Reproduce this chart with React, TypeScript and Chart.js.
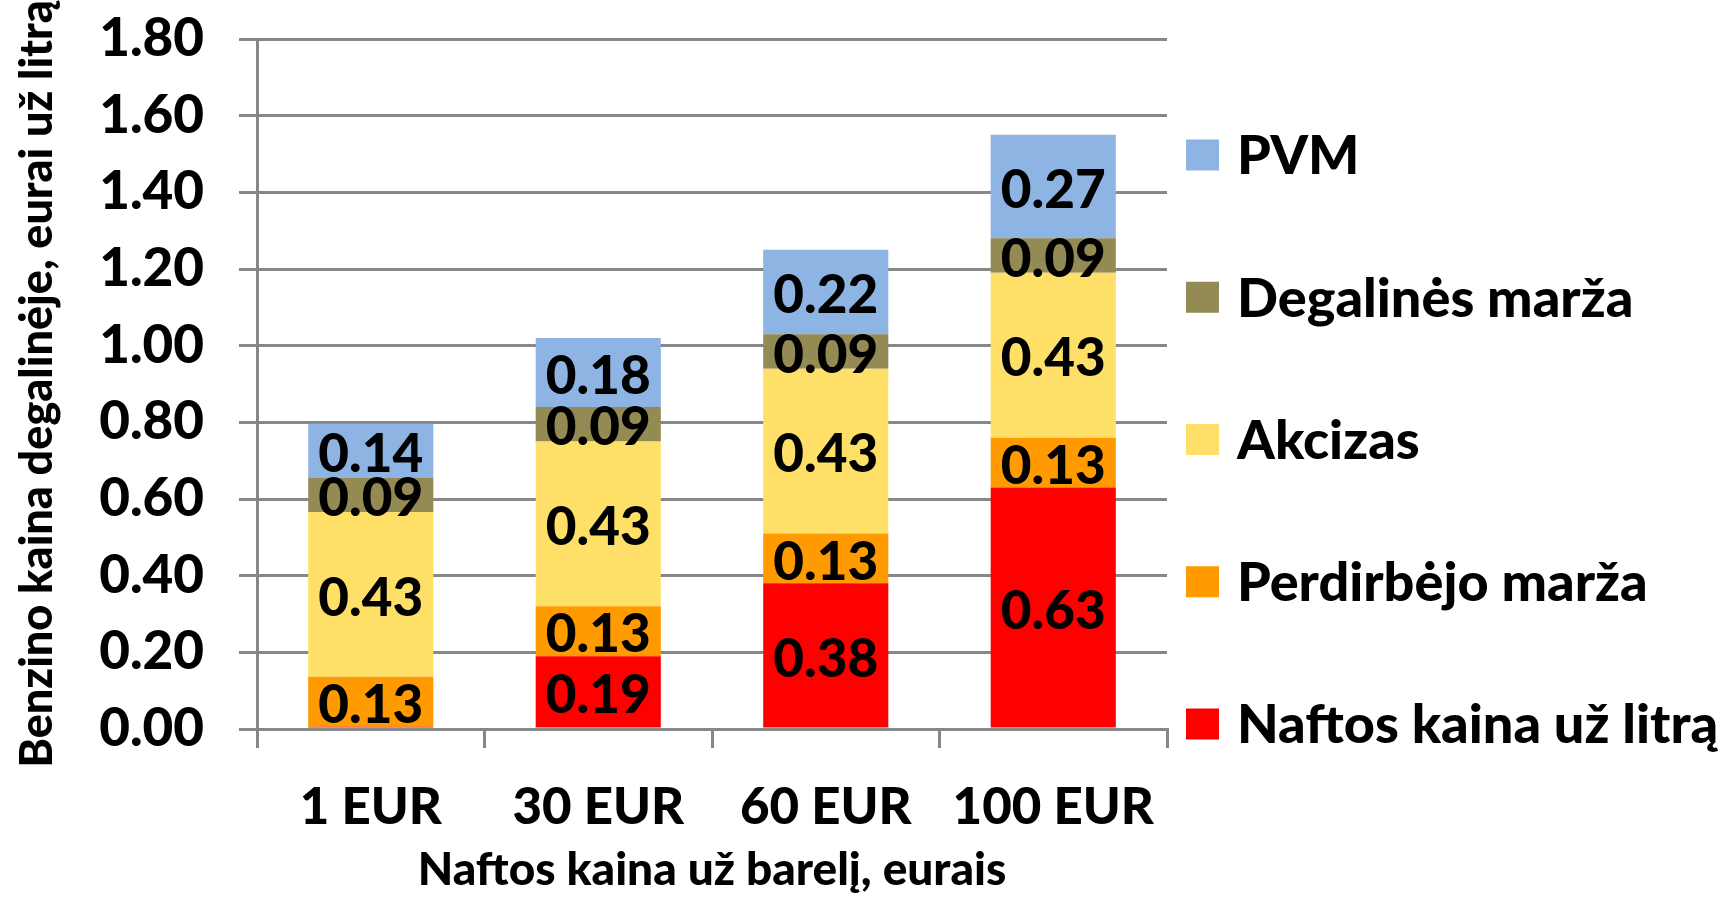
import React, { useEffect, useRef } from "react";
import { Chart, registerables } from "chart.js";

Chart.register(...registerables);

const categories = ["1 EUR", "30 EUR", "60 EUR", "100 EUR"];
const naftosKaina = [0.006, 0.19, 0.38, 0.63];
const perdirbejoMarza = [0.13, 0.13, 0.13, 0.13];
const akcizas = [0.43, 0.43, 0.43, 0.43];
const degalinesMarza = [0.09, 0.09, 0.09, 0.09];
const pvm = [0.14, 0.18, 0.22, 0.27];

const seriesNames = [
  "Naftos kaina už litrą",
  "Perdirbėjo marža",
  "Akcizas",
  "Degalinės marža",
  "PVM",
];
const seriesColors = ["#FF0000", "#FF9A00", "#FEDF67", "#948A54", "#8DB4E2"];

const yMin = 0;
const yMax = 1.8;
const yStep = 0.2;

const xTitle = "Naftos kaina už barelį, eurais";
const yTitle = "Benzino kaina degalinėje, eurai už litrą";

const FONT = "Lato, 'Open Sans', sans-serif";
const W = "900";
const GRID = "#878787";

const barLabels = {
  id: "barLabels",
  afterDatasetsDraw(chart: any) {
    const ctx = chart.ctx;
    ctx.save();
    ctx.font = `${W} 53px ${FONT}`;
    ctx.fillStyle = "#000";
    ctx.textAlign = "center";
    ctx.textBaseline = "middle";
    chart.data.datasets.forEach((ds: any, di: number) => {
      const meta = chart.getDatasetMeta(di);
      meta.data.forEach((el: any, i: number) => {
        const v = ds.data[i];
        if (v < 0.05) return;
        const { x, y, base } = el.getProps(["x", "y", "base"], true);
        ctx.fillText(v.toFixed(2), x, (y + base) / 2 + 4);
      });
    });
    ctx.restore();
  },
};

const sideLegend = {
  id: "sideLegend",
  afterDraw(chart: any) {
    const { ctx, chartArea } = chart;
    ctx.save();
    ctx.font = `${W} 54px ${FONT}`;
    ctx.textAlign = "left";
    ctx.textBaseline = "middle";
    const items = chart.data.datasets.slice().reverse();
    const x0 = chartArea.right + 19;
    const firstCenter = 155;
    const gap = 142.25;
    items.forEach((d: any, i: number) => {
      const cy = firstCenter + i * gap;
      ctx.fillStyle = d.backgroundColor;
      ctx.fillRect(x0, cy - 15.5, 33, 31);
      ctx.fillStyle = "#000";
      ctx.fillText(d.label, x0 + 33 + 18, cy + 2);
    });
    ctx.restore();
  },
};

export default function App() {
  const canvasRef = useRef<HTMLCanvasElement | null>(null);

  useEffect(() => {
    document.body.style.margin = "0";
    let chart: Chart | null = null;
    let cancelled = false;
    const build = () => {
      if (cancelled || !canvasRef.current) return;
      const seriesData = [naftosKaina, perdirbejoMarza, akcizas, degalinesMarza, pvm];
      chart = new Chart(canvasRef.current, {
        type: "bar",
        data: {
          labels: categories,
          datasets: seriesData.map((d, i) => ({
            label: seriesNames[i],
            data: d,
            backgroundColor: seriesColors[i],
            borderWidth: 0,
            categoryPercentage: 1,
            barPercentage: 0.55,
          })),
        },
        options: {
          responsive: false,
          animation: false,
          devicePixelRatio: 1,
          layout: { padding: { top: 39, right: 563, bottom: 0, left: 0 } },
          plugins: {
            legend: { display: false },
            tooltip: { enabled: false },
          },
          scales: {
            x: {
              stacked: true,
              z: 1,
              grid: {
                display: true,
                offset: true,
                drawOnChartArea: false,
                drawTicks: true,
                tickLength: 19,
                color: GRID,
                lineWidth: 3,
              },
              border: { display: true, color: GRID, width: 3 },
              ticks: {
                color: "#000",
                padding: 29,
                font: { family: FONT, size: 51, weight: W },
                maxRotation: 0,
                autoSkip: false,
              },
              title: {
                display: true,
                text: xTitle,
                color: "#000",
                font: { family: FONT, size: 46, weight: W },
                padding: { top: 0, bottom: 0 },
              },
              afterFit: (scale: any) => {
                scale.height = 169;
                scale.paddingLeft = 0;
                scale.paddingRight = 0;
              },
            },
            y: {
              stacked: true,
              min: yMin,
              max: yMax,
              grid: {
                color: GRID,
                lineWidth: 3,
                drawTicks: true,
                tickLength: 18,
              },
              border: { display: true, color: GRID, width: 3 },
              ticks: {
                stepSize: yStep,
                color: "#000",
                padding: 35,
                font: { family: FONT, size: 53, weight: W },
                callback: (v: any) => Number(v).toFixed(2),
              },
              title: {
                display: true,
                text: yTitle,
                color: "#000",
                font: { family: FONT, size: 45, weight: W },
                padding: { top: 10, bottom: 0 },
              },
              afterFit: (scale: any) => {
                scale.width = 257;
                scale.paddingTop = 0;
                scale.paddingBottom = 0;
              },
            },
          },
        },
        plugins: [barLabels, sideLegend],
      });
    };
    const fontsApi = (document as any).fonts;
    if (fontsApi && fontsApi.load) {
      Promise.all([
        fontsApi.load(`${W} 50px Lato`),
        fontsApi.load(`bold 50px Lato`),
      ])
        .catch(() => {})
        .then(build);
    } else {
      build();
    }
    return () => {
      cancelled = true;
      if (chart) chart.destroy();
    };
  }, []);

  return (
    <div style={{ width: 1730, height: 898, background: "#fff" }}>
      <canvas ref={canvasRef} width={1730} height={898} style={{ display: "block" }} />
    </div>
  );
}
